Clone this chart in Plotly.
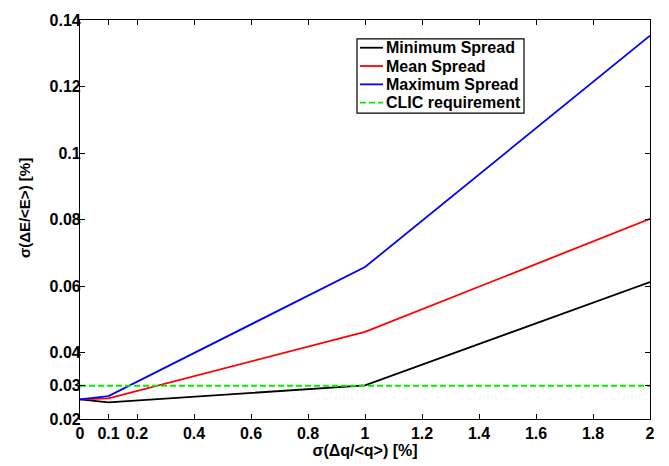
import plotly.graph_objects as go

# Relative charge spread sigma(dq/<q>) in percent
charge_spread = [0, 0.1, 1, 2]

# Resulting energy spread sigma(dE/<E>) in percent
min_spread = [0.0259, 0.0250, 0.0301, 0.0612]
mean_spread = [0.0259, 0.0262, 0.0462, 0.0802]
max_spread = [0.0259, 0.0269, 0.0657, 0.1353]

clic_requirement = 0.03

x_ticks = [0, 0.1, 0.2, 0.4, 0.6, 0.8, 1, 1.2, 1.4, 1.6, 1.8, 2]
x_tick_labels = ["0", "0.1", "0.2", "0.4", "0.6", "0.8", "1", "1.2", "1.4", "1.6", "1.8", "2"]
y_ticks = [0.02, 0.03, 0.04, 0.06, 0.08, 0.1, 0.12, 0.14]
y_tick_labels = ["0.02", "0.03", "0.04", "0.06", "0.08", "0.1", "0.12", "0.14"]

series_names = ["Minimum Spread", "Mean Spread", "Maximum Spread", "CLIC requirement"]
series_colors = ["black", "red", "blue", "#00ee00"]
series_dash = ["solid", "solid", "solid", "6px,3px"]

FONT = "Liberation Sans"
W, H = 669, 466
ML, MR, MT, MB = 80, 19, 17, 46
PW, PH = W - ML - MR, H - MT - MB
LW = 1.8


def px_x(px):
    """Figure pixel column -> plot-area paper fraction."""
    return (px - ML) / PW


def px_y(py):
    """Figure pixel row -> plot-area paper fraction."""
    return (H - MB - py) / PH


fig = go.Figure()
series_values = [min_spread, mean_spread, max_spread]
for name, vals, col in zip(series_names[:3], series_values, series_colors[:3]):
    fig.add_trace(go.Scatter(x=charge_spread, y=vals, mode="lines", name=name,
                             line=dict(color=col, width=LW), showlegend=False))
fig.add_trace(go.Scatter(x=[charge_spread[0], charge_spread[-1]],
                         y=[clic_requirement, clic_requirement], mode="lines",
                         name=series_names[3], showlegend=False,
                         line=dict(color=series_colors[3], width=LW, dash=series_dash[3])))

# Boxed legend, MATLAB style
shapes = [dict(type="rect", xref="paper", yref="paper",
               x0=px_x(357), x1=px_x(524), y0=px_y(111), y1=px_y(36),
               line=dict(color="black", width=1.2), fillcolor="white", layer="above")]
annotations = []
row_y = [45, 63.5, 82, 100.5]
for name, col, dash, ry in zip(series_names, series_colors, series_dash, row_y):
    shapes.append(dict(type="line", xref="paper", yref="paper",
                       x0=px_x(360), x1=px_x(383), y0=px_y(ry), y1=px_y(ry),
                       line=dict(color=col, width=LW, dash=dash), layer="above"))
    annotations.append(dict(xref="paper", yref="paper", x=px_x(384), y=px_y(ry),
                            xanchor="left", yanchor="middle", showarrow=False, text=name,
                            font=dict(family=FONT, size=16, color="black", weight="bold")))

# Vertical axis title
annotations.append(dict(xref="paper", yref="paper", x=px_x(24), y=px_y(207),
                        xanchor="center", yanchor="middle", showarrow=False,
                        textangle=-90, text="σ(ΔE/<E>) [%]",
                        font=dict(family=FONT, size=15, color="black", weight="bold")))

axis_common = dict(
    showline=True, linecolor="black", linewidth=1.2, mirror="ticks",
    ticks="inside", ticklen=5, tickcolor="black", showgrid=False, zeroline=False,
    tickfont=dict(family=FONT, size=16, color="black", weight="bold"),
)

fig.update_layout(
    width=W, height=H,
    margin=dict(l=ML, r=MR, t=MT, b=MB),
    paper_bgcolor="white", plot_bgcolor="white",
    font=dict(family=FONT, color="black"),
    showlegend=False,
    shapes=shapes,
    annotations=annotations,
    xaxis=dict(range=[0, 2], tickvals=x_ticks, ticktext=x_tick_labels,
               title=dict(text="σ(Δq/<q>) [%]", standoff=1,
                          font=dict(family=FONT, size=16, weight="bold")),
               **axis_common),
    yaxis=dict(range=[0.02, 0.14], tickvals=y_ticks, ticktext=y_tick_labels,
               ticklabelstandoff=-5, **axis_common),
)

fig.write_html("out.html")
